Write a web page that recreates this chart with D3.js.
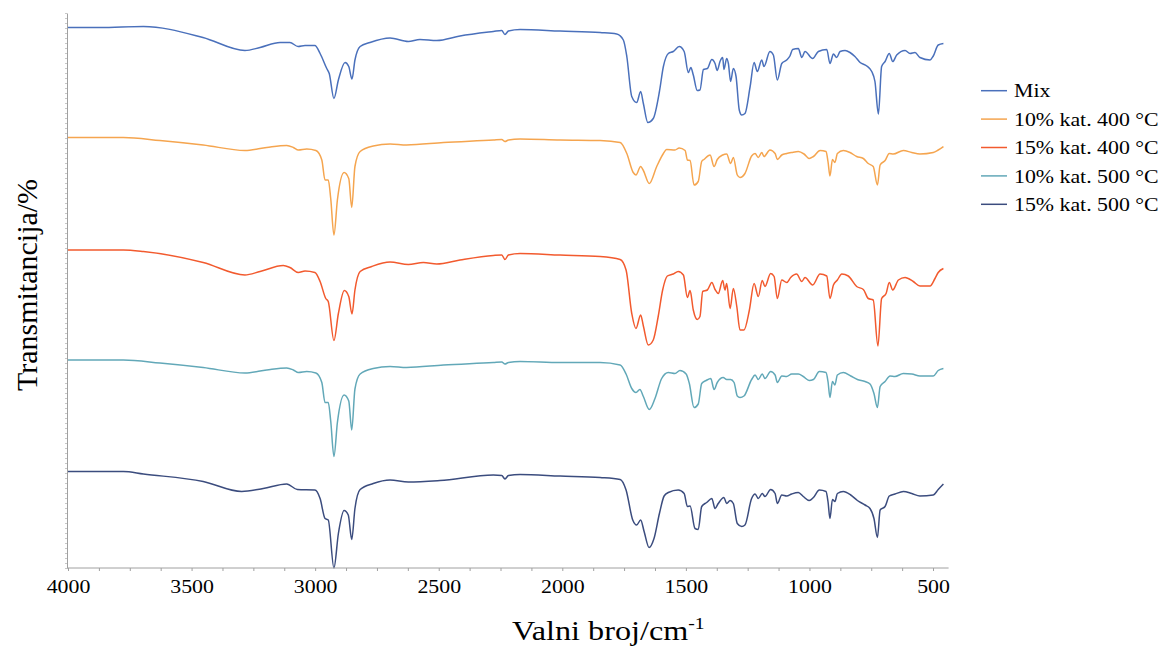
<!DOCTYPE html>
<html><head><meta charset="utf-8">
<script src="https://cdn.jsdelivr.net/npm/d3@7"></script>
<style>html,body{margin:0;padding:0;background:#fff;} svg{display:block;}</style>
</head><body>
<svg id="chart" width="1171" height="646"></svg>
<script>
// ---- data: [wavenumber (cm^-1), transmittance (stacked, a.u.)] ----
const seriesNames = ["Mix", "10% kat. 400 °C", "15% kat. 400 °C", "10% kat. 500 °C", "15% kat. 500 °C"];
const seriesColors = ["#4a70bb", "#f5a54f", "#f25a2e", "#62a8b8", "#3b4c7e"];
const xTickValues = [4000, 3500, 3000, 2500, 2000, 1500, 1000, 500];

const mixData = [[4000,108.1],[3871,108.1],[3695,108.3],[3454,106.1],[3284,103.5],[3223,104.1],[3142,105.1],[3102,105.1],[3069,104.3],[3041,104.5],[3001,104.5],[2980,102.9],[2953,99.9],[2943,98.9],[2924,93.9],[2906,97.6],[2879,101.1],[2864,100.3],[2851,97.8],[2839,101.6],[2818,104.3],[2778,105.1],[2697,106.0],[2623,105.3],[2576,105.7],[2508,105.5],[2414,106.4],[2279,107.3],[2245,107.5],[2232,106.7],[2218,107.4],[2171,107.7],[2009,107.4],[1847,107.1],[1780,106.8],[1753,105.6],[1739,102.3],[1719,94.3],[1699,93.1],[1683,95.3],[1672,92.9],[1654,89.1],[1632,89.9],[1607,95.3],[1591,100.3],[1571,102.9],[1551,103.3],[1527,104.3],[1507,103.3],[1490,99.1],[1480,100.1],[1470,98.6],[1454,95.5],[1443,95.6],[1429,99.7],[1413,99.9],[1395,101.7],[1382,100.9],[1373,99.5],[1362,101.3],[1351,102.1],[1346,99.7],[1335,101.9],[1328,100.9],[1319,97.3],[1308,99.9],[1297,98.3],[1284,91.6],[1274,90.6],[1261,90.9],[1240,96.3],[1224,101.1],[1211,99.3],[1193,101.6],[1184,100.3],[1160,103.3],[1146,102.6],[1130,97.6],[1112,100.9],[1092,101.6],[1079,102.4],[1068,103.7],[1045,103.9],[1031,102.1],[1018,103.3],[987,101.9],[964,103.3],[930,103.7],[917,100.9],[903,102.8],[890,102.1],[876,103.3],[856,103.5],[836,103.1],[816,102.3],[795,101.1],[768,100.4],[748,99.3],[735,97.3],[721,90.8],[708,100.3],[694,101.3],[677,102.9],[663,101.3],[647,102.6],[613,103.5],[593,102.9],[573,103.1],[553,102.1],[512,101.6],[499,102.4],[479,104.6],[458,104.9]];

const kat10_400Data = [[4000,86.1],[3776,86.1],[3628,85.5],[3453,84.6],[3284,83.5],[3196,84.1],[3115,84.5],[3088,84.1],[3068,83.6],[3034,83.8],[2997,83.5],[2973,81.6],[2960,77.6],[2947,77.6],[2937,73.9],[2924,66.6],[2910,73.6],[2883,79.1],[2864,77.9],[2852,72.1],[2839,80.3],[2818,83.3],[2765,84.4],[2697,84.8],[2630,84.6],[2481,85.1],[2279,85.6],[2245,85.7],[2232,85.3],[2218,85.6],[2171,85.8],[2009,85.6],[1847,85.5],[1766,85.1],[1739,82.9],[1713,79.1],[1702,78.6],[1683,80.3],[1672,79.5],[1648,76.9],[1618,80.3],[1591,82.9],[1578,83.7],[1544,83.6],[1527,84.0],[1503,83.5],[1494,81.6],[1483,81.5],[1467,76.6],[1450,77.3],[1436,81.3],[1427,81.7],[1402,82.6],[1386,80.3],[1373,81.7],[1351,82.6],[1335,82.8],[1319,80.9],[1308,82.1],[1292,78.6],[1281,78.1],[1261,78.9],[1234,82.4],[1220,82.9],[1207,82.1],[1193,83.1],[1184,82.3],[1160,83.6],[1139,82.9],[1130,81.7],[1112,82.6],[1092,82.9],[1072,83.1],[1045,83.3],[1022,82.8],[1001,81.9],[984,82.3],[957,83.5],[933,83.3],[925,81.3],[917,78.4],[907,81.7],[897,81.1],[887,82.9],[863,83.5],[836,83.1],[809,82.3],[782,81.9],[762,80.9],[742,80.3],[725,76.6],[714,80.6],[694,81.5],[677,82.9],[661,82.8],[620,83.5],[586,83.1],[553,82.8],[499,83.1],[479,83.6],[458,84.3]];

const kat15_400Data = [[4000,63.6],[3776,63.6],[3695,63.3],[3453,61.1],[3284,58.6],[3223,59.3],[3129,60.5],[3102,60.1],[3068,59.1],[3041,59.4],[3001,59.1],[2980,57.3],[2957,53.9],[2947,53.3],[2924,45.5],[2906,50.9],[2882,55.5],[2864,54.3],[2851,50.8],[2839,55.6],[2818,59.3],[2771,60.3],[2697,61.2],[2623,60.7],[2562,61.1],[2508,60.8],[2414,61.6],[2279,62.5],[2245,62.6],[2232,61.7],[2218,62.6],[2171,62.9],[2009,62.6],[1847,62.3],[1766,61.7],[1742,59.6],[1719,50.9],[1702,47.9],[1683,50.6],[1672,48.4],[1652,44.6],[1632,45.6],[1612,50.3],[1594,55.6],[1575,58.4],[1551,58.8],[1531,59.3],[1510,58.6],[1494,54.1],[1483,55.5],[1470,51.6],[1454,49.7],[1443,50.3],[1432,55.3],[1413,55.6],[1395,57.1],[1382,55.7],[1369,54.9],[1351,57.5],[1342,55.6],[1335,56.9],[1321,51.9],[1308,55.9],[1294,52.3],[1281,47.6],[1265,47.6],[1243,51.6],[1224,56.9],[1207,54.3],[1191,57.5],[1180,56.3],[1157,58.9],[1143,58.3],[1130,53.9],[1112,57.6],[1092,57.1],[1076,58.1],[1052,58.8],[1031,57.3],[1018,58.1],[987,56.6],[957,58.8],[930,58.4],[917,53.9],[903,56.6],[887,57.6],[869,58.8],[843,58.4],[809,56.3],[782,55.7],[762,53.9],[742,53.6],[723,44.4],[708,53.9],[690,54.9],[677,57.1],[663,55.6],[640,57.6],[613,58.1],[580,57.3],[553,56.4],[512,56.4],[492,57.9],[479,59.1],[458,59.9]];

const kat10_500Data = [[4000,41.6],[3776,41.6],[3628,41.0],[3453,40.1],[3284,39.0],[3196,39.6],[3115,40.0],[3088,39.6],[3068,39.1],[3034,39.3],[2997,39.0],[2973,37.1],[2960,33.1],[2947,33.1],[2937,29.4],[2924,22.3],[2910,29.1],[2883,34.6],[2864,33.4],[2852,27.6],[2839,35.8],[2818,38.8],[2765,39.9],[2697,40.3],[2630,40.1],[2481,40.6],[2279,41.1],[2245,41.2],[2232,40.8],[2218,41.1],[2171,41.3],[2009,41.1],[1847,41.1],[1766,40.6],[1742,38.8],[1719,35.9],[1702,35.1],[1686,35.7],[1672,34.3],[1648,31.7],[1625,33.9],[1598,37.9],[1571,39.1],[1544,38.9],[1524,39.5],[1499,38.8],[1486,36.9],[1467,32.1],[1450,32.8],[1436,36.9],[1418,37.5],[1399,37.9],[1386,35.7],[1373,37.1],[1349,38.1],[1335,37.7],[1319,37.7],[1305,37.1],[1292,34.4],[1281,34.1],[1265,34.4],[1234,37.7],[1220,38.6],[1207,37.7],[1191,38.8],[1180,37.9],[1157,39.3],[1139,38.6],[1130,37.1],[1112,38.4],[1092,38.3],[1072,38.8],[1045,38.8],[1025,38.3],[1001,37.5],[984,37.7],[960,39.3],[933,39.1],[925,37.3],[917,34.1],[907,37.3],[897,36.6],[887,38.6],[863,39.1],[833,38.4],[806,37.7],[775,37.3],[755,36.8],[739,34.9],[725,32.1],[714,36.3],[694,37.3],[674,38.4],[654,38.3],[620,38.9],[586,38.8],[553,38.4],[499,38.4],[479,39.5],[458,39.9]];

const kat15_500Data = [[4000,19.3],[3776,19.3],[3695,18.8],[3453,17.3],[3297,15.3],[3210,15.9],[3115,16.8],[3072,15.7],[3001,15.6],[2980,13.9],[2960,9.9],[2947,9.6],[2924,0.0],[2906,6.9],[2883,11.5],[2866,10.6],[2852,5.7],[2839,11.9],[2818,15.7],[2765,16.9],[2697,17.6],[2623,17.2],[2495,17.5],[2279,18.6],[2245,18.5],[2232,17.8],[2218,18.5],[2171,18.7],[2009,18.4],[1847,18.1],[1766,17.7],[1742,15.6],[1715,9.6],[1699,8.6],[1683,9.6],[1669,7.3],[1649,4.1],[1629,5.9],[1607,10.9],[1588,14.4],[1571,15.1],[1531,15.6],[1507,14.9],[1494,12.3],[1483,12.4],[1463,7.9],[1450,7.7],[1436,12.3],[1416,13.1],[1395,13.9],[1382,11.9],[1369,12.9],[1346,14.1],[1335,12.9],[1321,13.5],[1308,12.9],[1292,8.9],[1274,8.3],[1261,8.6],[1234,13.9],[1220,14.8],[1207,13.9],[1191,14.9],[1180,14.3],[1157,15.7],[1139,14.9],[1130,12.9],[1112,14.6],[1092,14.4],[1072,14.8],[1045,15.1],[1025,14.3],[1001,13.5],[984,14.1],[960,15.6],[933,15.3],[925,13.3],[917,9.9],[907,13.7],[897,13.3],[887,14.9],[863,15.3],[833,14.6],[806,13.5],[775,12.6],[755,11.9],[739,9.9],[725,6.1],[714,11.6],[694,12.3],[677,14.4],[654,14.8],[620,15.3],[586,14.9],[553,14.4],[499,14.6],[479,15.7],[458,16.8]];

const seriesData = [mixData, kat10_400Data, kat15_400Data, kat10_500Data, kat15_500Data];

// ---- layout ----
const plot = {left: 68, right: 948.6, top: 13, bottom: 568};
const svg = d3.select("#chart");
const x = d3.scaleLinear().domain([4000, 437]).range([plot.left, plot.right]);
const y = d3.scaleLinear().domain([0, 111]).range([plot.bottom, plot.top]);
const axisColor = "#a0a0a0";
const serif = "'Liberation Serif','Times New Roman',serif";
const stretch = 1.15;

// lines
const line = d3.line().x(d => x(d[0])).y(d => y(d[1])).curve(d3.curveMonotoneX);
svg.append("g").selectAll("path").data(seriesData).join("path")
  .attr("d", line).attr("fill", "none")
  .attr("stroke", (d, i) => seriesColors[i]).attr("stroke-width", 1.5)
  .attr("stroke-linejoin", "round");

// x axis: minor ticks every 125
const minorTicks = d3.range(4000, 437, -125);
const xAxisG = svg.append("g").attr("transform", `translate(0,${plot.bottom})`)
  .call(d3.axisBottom(x).tickValues(minorTicks).tickSize(3).tickSizeOuter(0).tickFormat(""));
xAxisG.select(".domain").attr("stroke", axisColor).attr("d", `M${plot.left - 1},0H${plot.right}`);
xAxisG.selectAll(".tick line").attr("stroke", axisColor);

const xLabG = svg.append("g").attr("transform", `translate(0,${plot.bottom})`)
  .call(d3.axisBottom(x).tickValues(xTickValues).tickSize(0).tickPadding(0).tickFormat(d3.format("d")));
xLabG.select(".domain").remove();
xLabG.selectAll(".tick text").attr("font-family", serif).attr("font-size", 19)
  .attr("fill", "#000").attr("y", 25).attr("dy", 0)
  .attr("transform", `scale(${stretch},1)`);

// y axis with dense small ticks
const yAxisG = svg.append("g").attr("transform", `translate(${plot.left - 1},0)`)
  .call(d3.axisLeft(y).tickValues(d3.range(0, 112, 1)).tickSize(2).tickSizeOuter(0).tickFormat(""));
yAxisG.select(".domain").attr("stroke", axisColor);
yAxisG.selectAll(".tick line").attr("stroke", "#c8c8c8");

// axis titles
const xt = svg.append("g").attr("transform", `translate(${(plot.left + plot.right) / 2 + 100},640)`)
  .append("text").attr("transform", `scale(${stretch},1)`)
  .attr("text-anchor", "middle").attr("font-family", serif).attr("font-size", 28).attr("fill", "#000");
xt.append("tspan").text("Valni broj/cm");
xt.append("tspan").text("-1").attr("font-size", 17).attr("dy", -11);

svg.append("g").attr("transform", `translate(37,285) rotate(-90)`)
  .append("text").attr("text-anchor", "middle").attr("font-family", serif)
  .attr("font-size", 30).attr("fill", "#000").text("Transmitancija/%");

// legend
const legend = svg.append("g");
seriesNames.forEach((name, i) => {
  const ly = 90.7 + i * 28.4;
  legend.append("line").attr("x1", 981).attr("x2", 1007).attr("y1", ly).attr("y2", ly)
    .attr("stroke", seriesColors[i]).attr("stroke-width", 1.5);
  legend.append("g").attr("transform", `translate(1014,${ly + 6.6})`)
    .append("text").attr("transform", `scale(${stretch},1)`)
    .attr("font-family", serif).attr("font-size", 19).attr("fill", "#000").text(name);
});
</script>
</body></html>
